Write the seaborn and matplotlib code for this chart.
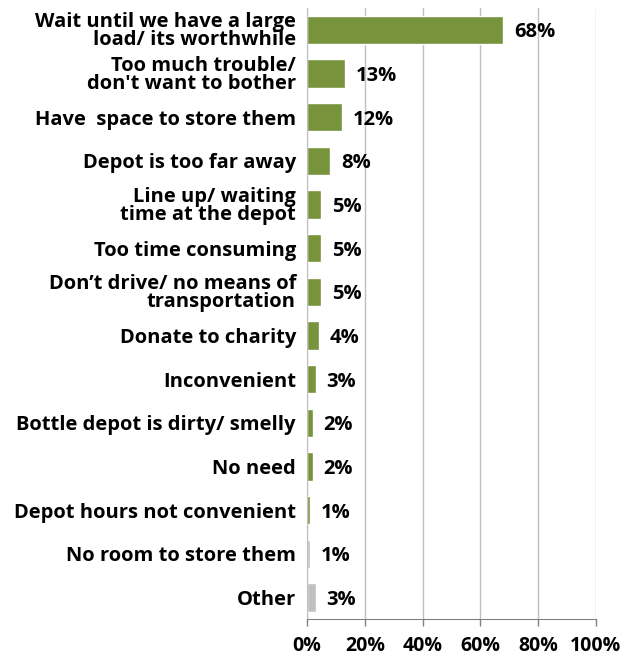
import seaborn as sns
import matplotlib.pyplot as plt
import pandas as pd

reasons = [
    "Wait until we have a large\nload/ its worthwhile",
    "Too much trouble/\ndon't want to bother",
    "Have  space to store them",
    "Depot is too far away",
    "Line up/ waiting\ntime at the depot",
    "Too time consuming",
    "Don\u2019t drive/ no means of\ntransportation",
    "Donate to charity",
    "Inconvenient",
    "Bottle depot is dirty/ smelly",
    "No need",
    "Depot hours not convenient",
    "No room to store them",
    "Other",
]
pct = [68, 13, 12, 8, 5, 5, 5, 4, 3, 2, 2, 1, 1, 3]
group = ["main"] * 12 + ["other"] * 2

df = pd.DataFrame({"reason": reasons, "pct": pct, "group": group})

sns.set_style("white")
plt.rcParams["font.family"] = ["Open Sans", "DejaVu Sans"]

fig = plt.figure(figsize=(6.24, 6.56), dpi=100)
ax = fig.add_axes([0.492, 0.056, 0.463, 0.932])

sns.barplot(data=df, x="pct", y="reason", hue="group",
            palette={"main": "#77933C", "other": "#C0C0C0"},
            width=0.65, dodge=False, legend=False, saturation=1, ax=ax)

# value labels just right of each bar
for i, v in enumerate(pct):
    ax.text(v + 3.8, i + 0.06, f"{v}%", va="center", ha="left",
            fontsize=14.5, fontweight="bold", color="black")

ax.set_xlim(0, 100)
ax.set_ylim(13.5, -0.5)
ax.set_xticks(range(0, 101, 20))
ax.set_xticklabels([f"{t}%" for t in range(0, 101, 20)])
ax.xaxis.grid(True, color="#BFBFBF", linewidth=1)
ax.set_axisbelow(True)
ax.set_xlabel("")
ax.set_ylabel("")

for lbl in ax.get_yticklabels():
    lbl.set_fontweight("bold")
    lbl.set_fontsize(14.5)
    lbl.set_linespacing(0.85)
for lbl in ax.get_xticklabels():
    lbl.set_fontweight("bold")
    lbl.set_fontsize(14)

ax.tick_params(axis="x", length=5, width=1, color="#808080", bottom=True,
               pad=7, labelcolor="black")
ax.tick_params(axis="y", length=0, pad=8, labelcolor="black")
for s in ["top", "right"]:
    ax.spines[s].set_visible(False)
ax.spines["left"].set_color("#BFBFBF")
ax.spines["bottom"].set_color("#808080")

fig.savefig("out.png", dpi=100)
